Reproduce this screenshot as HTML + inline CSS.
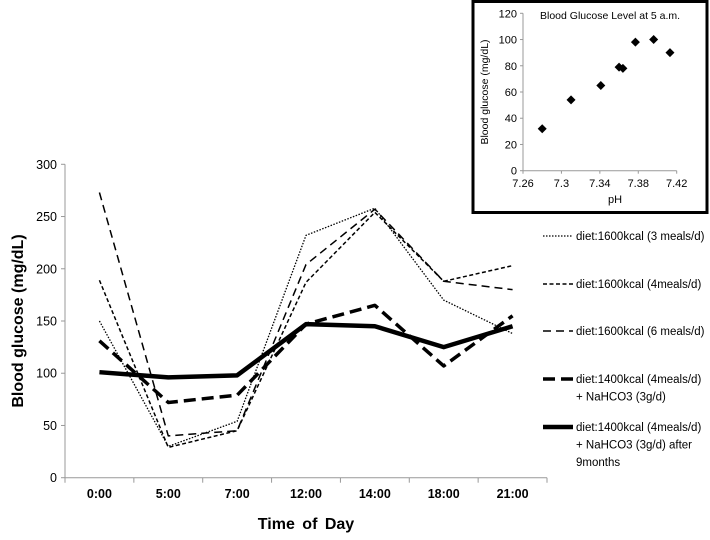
<!DOCTYPE html>
<html><head><meta charset="utf-8"><style>
body{margin:0;background:#fff;width:710px;height:535px;overflow:hidden;font-family:"Liberation Sans",Arial,sans-serif}
text{font-family:"Liberation Sans",Arial,sans-serif}
</style></head><body>
<svg id="c" width="710" height="535"></svg>
<script>
const categories=["0:00","5:00","7:00","12:00","14:00","18:00","21:00"];
const s3meals=[150,30,54,232,258,170,138];
const s4meals=[189,29,45,187,254,188,203];
const s6meals=[273,40,45,204,257,188,180];
const s1400=[131,72,79,147,165,107,155];
const s1400after=[101,96,98,147,145,125,145];
const yTicks=[0,50,100,150,200,250,300];
const insetPH=[7.28,7.31,7.341,7.36,7.364,7.377,7.396,7.413];
const insetBG=[32,54,65,79,78,98,100,90];
const insetYTicks=[0,20,40,60,80,100,120];
const insetXTicks=[7.26,7.3,7.34,7.38,7.42];

const NS="http://www.w3.org/2000/svg",svg=document.getElementById('c');
function el(t,a,p){const e=document.createElementNS(NS,t);for(const k in a)e.setAttribute(k,a[k]);(p||svg).appendChild(e);return e;}
const x0=65,x1=547,y0=477.7,yTop=164.3;
const bw=(x1-x0)/categories.length;
const xs=i=>x0+bw*(i+0.5);
const ys=v=>y0-(v/300)*(y0-yTop);
let a=el('line',{x1:x0,y1:yTop,x2:x0,y2:y0,stroke:'#999'});

a=el('line',{x1:x0,y1:y0,x2:x1,y2:y0,stroke:'#999'});

yTicks.forEach(v=>{el('line',{x1:x0-4,y1:ys(v),x2:x0,y2:ys(v),stroke:'#999'});
const t=el('text',{x:x0-8,y:ys(v)+4.5,'text-anchor':'end','font-size':'12.5'});t.textContent=v;
});
for(let i=0;i<=categories.length;i++)el('line',{x1:x0+bw*i,y1:y0,x2:x0+bw*i,y2:y0+5,stroke:'#999'});
categories.forEach((c,i)=>{const t=el('text',{x:xs(i),y:498,'text-anchor':'middle','font-size':'12.5','font-weight':'bold'});t.textContent=c;
});
let t=el('text',{x:306,y:529,'text-anchor':'middle','font-size':'16','font-weight':'bold','word-spacing':'3'});t.textContent='Time of Day';

t=el('text',{x:0,y:0,'text-anchor':'middle','font-size':'16','font-weight':'bold',transform:'translate(23,321) rotate(-90)'});t.textContent='Blood glucose (mg/dL)';

const series=[
 {d:s3meals,w:1.3,da:'1.5,1.5',n:'series-1600kcal-3meals',lab:['diet:1600kcal (3 meals/d)'],ly:240},
 {d:s4meals,w:1.5,da:'4,2.5',n:'series-1600kcal-4meals',lab:['diet:1600kcal (4meals/d)'],ly:288},
 {d:s6meals,w:1.5,da:'8,5',n:'series-1600kcal-6meals',lab:['diet:1600kcal (6 meals/d)'],ly:335},
 {d:s1400,w:3.5,da:'12,6',n:'series-1400kcal-nahco3',lab:['diet:1400kcal (4meals/d)','+ NaHCO3 (3g/d)'],ly:383},
 {d:s1400after,w:4.5,da:'',n:'series-1400kcal-nahco3-9months',lab:['diet:1400kcal (4meals/d)','+ NaHCO3 (3g/d) after','9months'],ly:431}];
series.forEach(s=>{
 const p=el('polyline',{points:s.d.map((v,i)=>xs(i)+','+ys(v)).join(' '),fill:'none',stroke:'#000','stroke-width':s.w,'stroke-dasharray':s.da,'stroke-linejoin':'round'});
 
 const g=el('g',{});
 el('line',{x1:543,y1:s.ly-4,x2:573,y2:s.ly-4,stroke:'#000','stroke-width':s.w,'stroke-dasharray':s.da},g);
 s.lab.forEach((l,k)=>{const tt=el('text',{x:576,y:s.ly+k*17.5,'font-size':'11.5'},g);tt.textContent=l;});
});
const ig=el('g',{});
el('rect',{x:473,y:1.5,width:234,height:211,fill:'#fff',stroke:'#000','stroke-width':3},ig);
const ix0=523,ix1=676.7,iy0=170.7,iy1=13.3;
const ixs=v=>ix0+(v-7.26)/(0.16)*(ix1-ix0),iys=v=>iy0-v/120*(iy0-iy1);
el('line',{x1:ix0,y1:iy1,x2:ix0,y2:iy0,stroke:'#999'},ig);
el('line',{x1:ix0,y1:iy0,x2:ix1,y2:iy0,stroke:'#999'},ig);
insetYTicks.forEach(v=>{el('line',{x1:ix0-3,y1:iys(v),x2:ix0,y2:iys(v),stroke:'#999'},ig);
 const q=el('text',{x:ix0-6,y:iys(v)+4,'text-anchor':'end','font-size':'11'},ig);q.textContent=v;});
insetXTicks.forEach(v=>{el('line',{x1:ixs(v),y1:iy0,x2:ixs(v),y2:iy0+3,stroke:'#999'},ig);
 const q=el('text',{x:ixs(v),y:187,'text-anchor':'middle','font-size':'11'},ig);q.textContent=v;});
let q=el('text',{x:615,y:203,'text-anchor':'middle','font-size':'11'},ig);q.textContent='pH';
q=el('text',{x:0,y:0,'text-anchor':'middle','font-size':'10.5',transform:'translate(488,92) rotate(-90)'},ig);q.textContent='Blood glucose  (mg/dL)';
q=el('text',{x:540,y:19,'font-size':'10.5'},ig);q.textContent='Blood Glucose Level at 5 a.m.';
insetPH.forEach((p,i)=>{const cx=ixs(p),cy=iys(insetBG[i]);
 const m=el('polygon',{points:`${cx},${cy-4.5} ${cx+4.5},${cy} ${cx},${cy+4.5} ${cx-4.5},${cy}`,fill:'#000'},ig);
 });
</script>
</body></html>
